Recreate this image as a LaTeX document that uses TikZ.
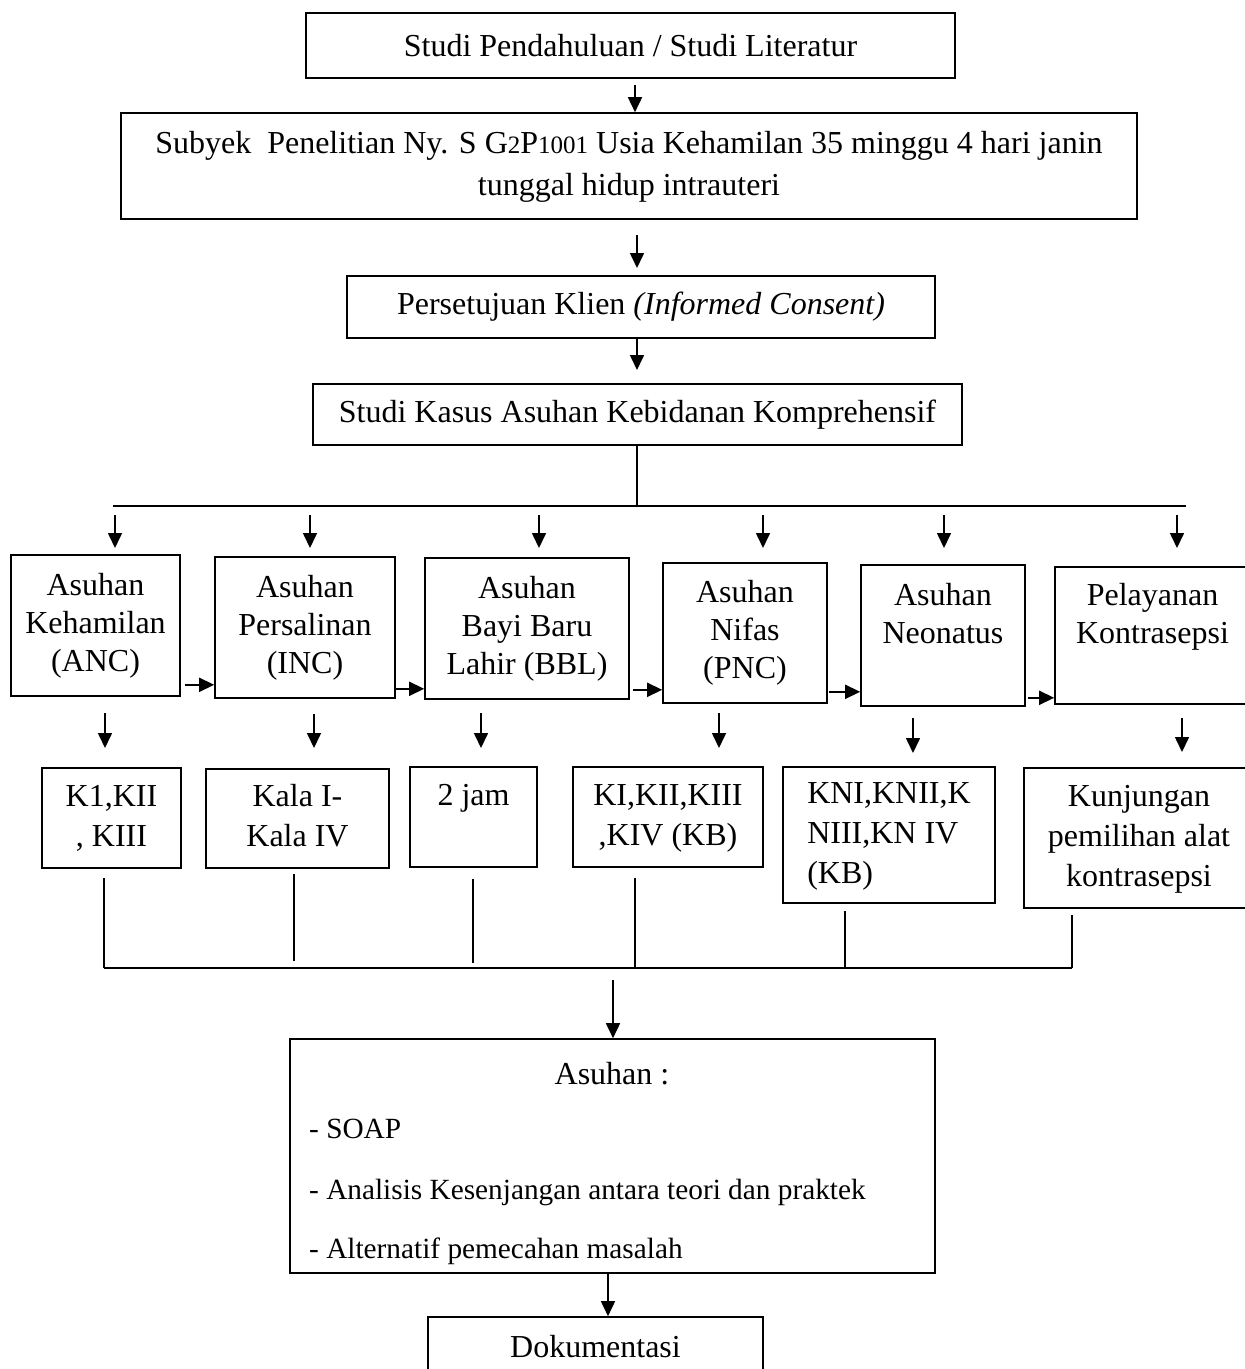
\documentclass[tikz,border=0pt]{standalone}
\usepackage{fontspec}
\setmainfont{Liberation Serif}
\usetikzlibrary{arrows.meta,calc}
\newcommand\fszA{\fontsize{32}{38}\selectfont}
\newcommand\fszB{\fontsize{32}{40}\selectfont}
\newcommand\fszC{\fontsize{32}{42}\selectfont}
\newcommand\fszL{\fontsize{29.3}{35}\selectfont}
\newcommand\smd[1]{{\fontsize{25}{25}\selectfont #1}}
\begin{document}
\begin{tikzpicture}[x=1pt,y=-1pt,
  box/.style={draw, line width=1.6pt, inner sep=0pt, align=center, font=\fszA},
  lbl/.style={inner sep=0pt, font=\fszA},
  lst/.style={inner sep=0pt, font=\fszL, anchor=base west},
  arr/.style={line width=1.6pt, -{Triangle[width=14pt,length=15pt]}},
  ln/.style={line width=1.6pt}]
\useasboundingbox (0,0) rectangle (1245,1369);
\clip (0,0) rectangle (1245,1369);

% top column
\node[box, minimum width=649pt, minimum height=65pt] (b1) at (630.5,45.5) {Studi Pendahuluan / Studi Literatur};
\node[box, font=\fszC, minimum width=1016pt, minimum height=106pt] (b2) at (629,166)
  {\strut Subyek\ \ Penelitian Ny. S G\smd{2}P\smd{1001} Usia Kehamilan 35 minggu 4 hari janin\\\strut tunggal hidup intrauteri};
\node[box, minimum width=588pt, minimum height=62pt] (b3) at (641,307) {Persetujuan Klien \textit{(Informed Consent)}};
\node[box, minimum width=649pt, minimum height=61pt] (b4) at (637.5,414.5) {Studi Kasus Asuhan Kebidanan Komprehensif};

% row 1
\node[box, minimum width=169pt, minimum height=141pt] (anc) at (95.5,625.5) {\strut Asuhan\\\strut Kehamilan\\\strut (ANC)};
\node[box, minimum width=180pt, minimum height=141pt] (inc) at (305,627.5) {\strut Asuhan\\\strut Persalinan\\\strut (INC)};
\node[box, minimum width=204pt, minimum height=141pt] (bbl) at (527,628.5) {\strut Asuhan\\\strut Bayi Baru\\\strut Lahir (BBL)};
\node[box, minimum width=164pt, minimum height=140pt] (pnc) at (745,633) {\strut Asuhan\\\strut Nifas\\\strut (PNC)};
\node[box, minimum width=164pt, minimum height=141pt] (neo) at (943,635.5) {\strut Asuhan\\\strut Neonatus\\\strut};
\node[box, minimum width=195pt, minimum height=137pt] (kon) at (1152.5,635.5) {\strut Pelayanan\\\strut Kontrasepsi\\\strut};

% row 2
\node[box, font=\fszB, minimum width=139pt, minimum height=100pt] (k1) at (111.5,818) {\strut K1,KII\\\strut , KIII};
\node[box, font=\fszB, minimum width=183pt, minimum height=99pt] (kala) at (297.5,818.5) {\strut Kala I-\\\strut Kala IV};
\node[box, font=\fszB, minimum width=127pt, minimum height=100pt] (jam) at (473.5,817) {\strut 2 jam\\\strut};
\node[box, font=\fszB, minimum width=190pt, minimum height=100pt] (ki) at (668,817) {\strut KI,KII,KIII\\\strut ,KIV (KB)};
\node[box, font=\fszB, align=left, minimum width=212pt, minimum height=136pt] (kn) at (889,835) {\strut KNI,KNII,K\\\strut NIII,KN IV\\\strut (KB)};
\node[box, font=\fszB, minimum width=230pt, minimum height=140pt] (kunj) at (1139,838) {\strut Kunjungan\\\strut pemilihan alat\\\strut kontrasepsi};

% bottom boxes
\node[box, minimum width=645pt, minimum height=234pt] (asuhan) at (612.5,1156) {};
\node[lbl, anchor=base] (tA) at (612,1084) {Asuhan :};
\node[lst] (tB) at (309,1138) {- SOAP};
\node[lst] (tC) at (309,1199) {- Analisis Kesenjangan antara teori dan praktek};
\node[lst] (tD) at (309,1258) {- Alternatif pemecahan masalah};
\node[box, minimum width=335pt, minimum height=83pt] (doc) at (595.5,1358.5) {};
\node[lbl, anchor=base] (tDoc) at (595.5,1357) {Dokumentasi};

% top arrows
\coordinate (v1) at (635,85);
\draw[arr] (v1) -- (v1 |- b2.north);
\coordinate (v2) at (637,235);
\draw[arr] (v2) -- ($(v2)+(0,33)$);
\coordinate (v3) at (637,338);
\draw[arr] (v3) -- ($(v3)+(0,32)$);

% bus 1
\coordinate (busL) at (113,506);
\coordinate (busR) at (1186,506);
\coordinate (vb) at (637,445);
\draw[ln] (vb) -- (vb |- busL);
\draw[ln] (busL) -- (busR);
\foreach \x in {115,310,539,763,944,1177}{
  \draw[arr] (\x,515) -- (\x,548);
}

% horizontal arrows in row 1
\coordinate (h1) at ($(anc.south east)+(4,-12)$);
\draw[arr] (h1) -- (h1 -| inc.west);
\coordinate (h2) at ($(inc.south east)+(0,-10)$);
\draw[arr] (h2) -- (h2 -| bbl.west);
\coordinate (h3) at ($(bbl.south east)+(3,-10)$);
\draw[arr] (h3) -- (h3 -| pnc.west);
\coordinate (h4) at ($(pnc.south east)+(1,-12)$);
\draw[arr] (h4) -- (h4 -| neo.west);
\coordinate (h5) at ($(neo.south east)+(2,-9)$);
\draw[arr] (h5) -- (h5 -| kon.west);

% arrows row 1 -> row 2
\foreach \x/\ya/\yb in {105/713/748,314/714/748,481/713/748,719/713/748,913/718/753,1182/718/752}{
  \draw[arr] (\x,\ya) -- (\x,\yb);
}

% row 2 -> bus 2
\coordinate (bus2L) at (104,968);
\coordinate (bus2R) at (1072,968);
\draw[ln] (104,878) -- (bus2L);
\draw[ln] (294,874) -- (294,961);
\draw[ln] (473,879) -- (473,963);
\draw[ln] (635,878) -- (635,968);
\draw[ln] (845,911) -- (845,968);
\draw[ln] (1072,915) -- (bus2R);
\draw[ln] (bus2L) -- (bus2R);

% bottom arrows
\coordinate (a1) at (613,980);
\draw[arr] (a1) -- (a1 |- asuhan.north);
\coordinate (a2) at (608,1273);
\draw[arr] (a2) -- (a2 |- doc.north);
\end{tikzpicture}
\end{document}
